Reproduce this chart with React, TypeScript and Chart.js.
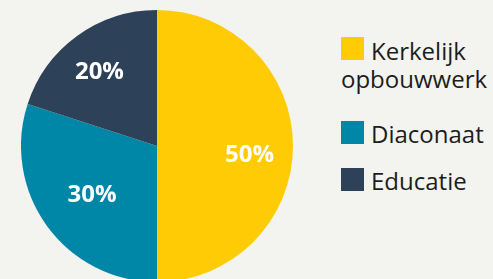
import React, { useEffect, useRef } from "react";
import { Chart, registerables } from "chart.js";

Chart.register(...registerables);

const categories = ["Kerkelijk opbouwwerk", "Diaconaat", "Educatie"];
const legendLines = [["Kerkelijk", "opbouwwerk"], ["Diaconaat"], ["Educatie"]];
const shares = [50, 30, 20];
const colors = ["#FFCB05", "#0087A7", "#2D4259"];

const FONT = "'Open Sans', 'Noto Sans', sans-serif";

// label placement: radial fraction of outer radius and small baseline nudge (px)
const LABEL_RADIUS = [0.68, 0.59, 0.72];
const LABEL_DY = [7, 0, 3];

const labelPlugin = {
  id: "sliceLabels",
  afterDatasetsDraw(chart: any) {
    const ctx = chart.ctx;
    const meta = chart.getDatasetMeta(0);
    ctx.save();
    ctx.fillStyle = "#ffffff";
    ctx.font = `bold 24px ${FONT}`;
    ctx.textAlign = "center";
    ctx.textBaseline = "alphabetic";
    meta.data.forEach((arc: any, i: number) => {
      const { x, y, startAngle, endAngle, outerRadius } = arc.getProps(
        ["x", "y", "startAngle", "endAngle", "outerRadius"],
        true
      );
      const mid = (startAngle + endAngle) / 2;
      const r = outerRadius * LABEL_RADIUS[i];
      const cx = x + Math.cos(mid) * r;
      const cy = y + Math.sin(mid) * r + LABEL_DY[i];
      ctx.fillText(`${shares[i]}%`, cx, cy + 9);
    });
    ctx.restore();
  },
};

export default function App() {
  const ref = useRef<HTMLCanvasElement | null>(null);

  useEffect(() => {
    if (!ref.current) return;
    const chart = new Chart(ref.current, {
      type: "pie",
      data: {
        labels: categories,
        datasets: [
          {
            data: shares,
            backgroundColor: colors,
            borderWidth: 0,
            hoverOffset: 0,
          },
        ],
      },
      options: {
        responsive: false,
        animation: false,
        events: [],
        layout: { padding: 0 },
        plugins: {
          legend: { display: false },
          tooltip: { enabled: false },
        },
      },
      plugins: [labelPlugin],
    });
    return () => chart.destroy();
  }, []);

  const squareTops = [37, 121, 168];
  const textTops = [36.7, 119.7, 166.7];

  return (
    <div
      style={{
        position: "fixed",
        left: 0,
        top: 0,
        width: 493,
        height: 279,
        overflow: "hidden",
        background: "#f3f3f0",
        fontFamily: FONT,
      }}
    >
      <canvas
        ref={ref}
        width={272}
        height={272}
        style={{ position: "absolute", left: 21, top: 10, width: 272, height: 272 }}
      />
      {categories.map((c, i) => (
        <React.Fragment key={c}>
          <div
            style={{
              position: "absolute",
              left: 341,
              top: squareTops[i],
              width: 23,
              height: 23,
              background: colors[i],
            }}
          />
          <div
            style={{
              position: "absolute",
              left: 341,
              top: textTops[i],
              fontSize: 24,
              lineHeight: "28px",
              color: "#1d1d1b",
              whiteSpace: "nowrap",
            }}
          >
            <span style={{ marginLeft: 30 }}>{legendLines[i][0]}</span>
            {legendLines[i].slice(1).map((l) => (
              <React.Fragment key={l}>
                <br />
                <span>{l}</span>
              </React.Fragment>
            ))}
          </div>
        </React.Fragment>
      ))}
    </div>
  );
}
